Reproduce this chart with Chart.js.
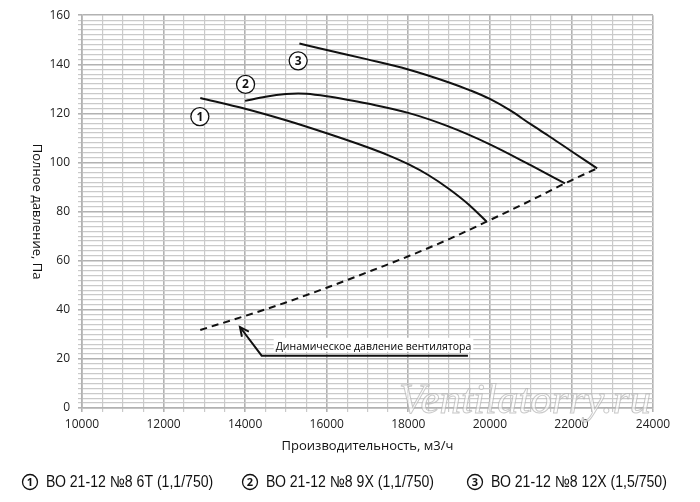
<!DOCTYPE html>
<html>
<head>
<meta charset="utf-8">
<script src="https://cdn.jsdelivr.net/npm/chart.js@4.4.1/dist/chart.umd.min.js"></script>
<style>
  html, body { margin: 0; padding: 0; background: #fff; }
  #wrap { width: 700px; height: 502px; position: relative; }
</style>
</head>
<body>
<div id="wrap"><canvas id="fanChart"></canvas></div>
<script>
// --- данные ---
const curve1X = [12900, 14000, 15000, 16000, 17000, 17500, 18000, 18500, 19000, 19500, 19920];
const curve1Y = [126.3, 121.9, 117.2, 111.9, 106.2, 103.0, 99.3, 94.8, 89.2, 82.6, 75.9];

const curve2X = [14000, 14500, 15000, 15300, 15500, 16000, 16500, 17000, 18000, 19000, 20000, 21000, 21840];
const curve2Y = [125.1, 126.8, 127.9, 128.1, 128.0, 127.0, 125.6, 124.0, 120.2, 114.6, 107.4, 98.9, 91.5];

const curve3X = [15330, 16000, 17000, 18000, 19000, 19500, 20000, 20500, 21000, 21500, 22000, 22630];
const curve3Y = [148.5, 145.8, 142.0, 137.9, 132.6, 129.5, 125.9, 121.2, 115.6, 110.2, 104.6, 97.6];

// динамическое давление (пунктир)
const dynX = [12900, 14000, 15000, 16000, 17000, 18000, 19000, 19920, 21000, 21840, 22630];
const dynY = [31.8, 37.5, 43, 49, 55.3, 61.8, 68.8, 75.9, 84.5, 91.5, 97.6];

const legendLabels = ['ВО 21-12 №8 6Т (1,1/750)', 'ВО 21-12 №8 9Х (1,1/750)', 'ВО 21-12 №8 12Х (1,5/750)'];
const markerNums = ['1', '2', '3'];
const markerX = [12890, 14010, 15300];
const markerY = [118.7, 131.8, 141.4];

// стрелка с подписью
const arrowX = [13873, 14405, 19463];
const arrowY = [33, 21.3, 21.3];
const arrowText = 'Динамическое давление вентилятора';

const xTitle = 'Производительность, м3/ч';
const yTitle = 'Полное давление, Па';

function toPoints(xs, ys) {
    return xs.map((v, i) => ({ x: v, y: ys[i] }));
}

const FONT = '"Open Sans", "DejaVu Sans", sans-serif';
const LEGFONT = '"Liberation Sans", Arial, sans-serif';

function circleNum(ctx, cx, cy, r, txt, fontPx) {
    ctx.save();
    ctx.beginPath();
    ctx.arc(cx, cy, r, 0, Math.PI * 2);
    ctx.fillStyle = '#fff';
    ctx.fill();
    ctx.lineWidth = 1.3;
    ctx.strokeStyle = '#111';
    ctx.stroke();
    ctx.fillStyle = '#111';
    ctx.font = 'bold ' + fontPx + 'px ' + FONT;
    ctx.textAlign = 'center';
    ctx.textBaseline = 'middle';
    ctx.fillText(txt, cx, cy + 0.5);
    ctx.restore();
}

const overlayPlugin = {
    id: 'overlay',
    beforeDatasetsDraw(chart) {
        // водяной знак
        const ctx = chart.ctx;
        ctx.save();
        ctx.font = 'italic 43px "Liberation Serif", serif';
        ctx.textAlign = 'center';
        ctx.textBaseline = 'alphabetic';
        ctx.fillStyle = 'rgba(255,255,255,0.6)';
        ctx.fillText('Ventilatorry.ru', 525, 413);
        ctx.strokeStyle = 'rgba(165,165,165,0.6)';
        ctx.lineWidth = 1;
        ctx.strokeText('Ventilatorry.ru', 525, 413);
        ctx.restore();
    },
    afterDatasetsDraw(chart) {
        const ctx = chart.ctx;
        const xs = chart.scales.x, ys = chart.scales.y;

        // стрелка
        const p = arrowX.map((v, i) => [xs.getPixelForValue(v), ys.getPixelForValue(arrowY[i])]);
        ctx.save();
        ctx.font = '10.5px ' + FONT;
        ctx.textBaseline = 'alphabetic';
        ctx.textAlign = 'left';
        const tw = ctx.measureText(arrowText).width;
        ctx.fillStyle = '#fff';
        ctx.fillRect(p[1][0] + 12, p[1][1] - 18, tw + 4, 14);
        ctx.fillStyle = '#000';
        ctx.fillText(arrowText, p[1][0] + 14, p[1][1] - 6);

        ctx.strokeStyle = '#111';
        ctx.lineWidth = 2;
        ctx.beginPath();
        ctx.moveTo(p[0][0], p[0][1]);
        ctx.lineTo(p[1][0], p[1][1]);
        ctx.lineTo(p[2][0], p[2][1]);
        ctx.stroke();
        // наконечник
        const ang = Math.atan2(p[0][1] - p[1][1], p[0][0] - p[1][0]);
        ctx.beginPath();
        ctx.moveTo(p[0][0] - 10 * Math.cos(ang - 0.45), p[0][1] - 10 * Math.sin(ang - 0.45));
        ctx.lineTo(p[0][0], p[0][1]);
        ctx.lineTo(p[0][0] - 10 * Math.cos(ang + 0.45), p[0][1] - 10 * Math.sin(ang + 0.45));
        ctx.stroke();
        ctx.restore();

        // номера кривых
        markerNums.forEach((n, i) => {
            circleNum(ctx, xs.getPixelForValue(markerX[i]), ys.getPixelForValue(markerY[i]), 9, n, 12);
        });
    },
    afterDraw(chart) {
        const ctx = chart.ctx;
        const a = chart.chartArea;
        ctx.save();
        ctx.fillStyle = '#111';
        ctx.font = '13px ' + FONT;
        ctx.textAlign = 'center';
        ctx.textBaseline = 'middle';
        ctx.fillText(xTitle, (a.left + a.right) / 2, 446);
        ctx.translate(37, (a.top + a.bottom) / 2);
        ctx.rotate(Math.PI / 2);
        ctx.fillText(yTitle, 0, 0);
        ctx.restore();

        // легенда снизу (узкий шрифт — сжатие по горизонтали)
        const legX = [30, 250, 475];
        legendLabels.forEach((lab, i) => {
            circleNum(ctx, legX[i], 482, 7.5, markerNums[i], 11);
            ctx.save();
            ctx.fillStyle = '#111';
            ctx.font = '16px ' + LEGFONT;
            ctx.textAlign = 'left';
            ctx.textBaseline = 'middle';
            ctx.translate(legX[i] + 16, 483);
            ctx.scale(0.88, 1);
            ctx.fillText(lab, 0, 0);
            ctx.restore();
        });
    }
};

const lineStyle = {
    borderColor: '#111',
    borderWidth: 2,
    pointRadius: 0,
    fill: false,
    cubicInterpolationMode: 'monotone'
};

const ctx = document.getElementById('fanChart').getContext('2d');
const fanChart = new Chart(ctx, {
    type: 'line',
    data: {
        datasets: [
            Object.assign({ label: legendLabels[0], data: toPoints(curve1X, curve1Y) }, lineStyle),
            Object.assign({ label: legendLabels[1], data: toPoints(curve2X, curve2Y) }, lineStyle),
            Object.assign({ label: legendLabels[2], data: toPoints(curve3X, curve3Y) }, lineStyle),
            Object.assign({ label: arrowText, data: toPoints(dynX, dynY), borderDash: [7, 5] }, lineStyle)
        ]
    },
    options: {
        responsive: true,
        maintainAspectRatio: false,
        animation: false,
        layout: { padding: { top: 15, right: 47, left: 0, bottom: 0 } },
        plugins: { legend: { display: false }, tooltip: { enabled: false } },
        scales: {
            x: {
                type: 'linear',
                min: 10000,
                max: 24000,
                afterFit: s => { s.height = 94; },
                afterBuildTicks: s => {
                    s.ticks = [];
                    for (let v = 10000; v <= 24000; v += 500) s.ticks.push({ value: v });
                },
                ticks: {
                    autoSkip: false,
                    maxRotation: 0,
                    padding: 5,
                    color: '#222',
                    font: { family: FONT, size: 12 },
                    callback: v => (v % 2000 === 0 ? String(v) : '')
                },
                grid: {
                    color: c => (c.tick && c.tick.value % 2000 === 0 ? '#b2b2b2' : '#cacaca'),
                    lineWidth: c => (c.tick && c.tick.value % 2000 === 0 ? 1.6 : 1.2),
                    tickLength: 4
                },
                border: { color: '#b2b2b2', width: 1.6 }
            },
            y: {
                min: 0,
                max: 160,
                afterFit: s => { s.width = 82; },
                afterBuildTicks: s => {
                    s.ticks = [];
                    for (let v = 0; v <= 160; v += 2) s.ticks.push({ value: v });
                },
                ticks: {
                    autoSkip: false,
                    padding: 8,
                    color: '#222',
                    font: { family: FONT, size: 12 },
                    callback: v => (v % 20 === 0 ? String(v) : '')
                },
                grid: {
                    color: c => (c.tick && c.tick.value % 20 === 0 ? '#b2b2b2' : '#cacaca'),
                    lineWidth: c => (c.tick && c.tick.value % 20 === 0 ? 1.6 : 1.2),
                    tickLength: 4
                },
                border: { color: '#b2b2b2', width: 1.6 }
            }
        }
    },
    plugins: [overlayPlugin]
});
</script>
</body>
</html>
